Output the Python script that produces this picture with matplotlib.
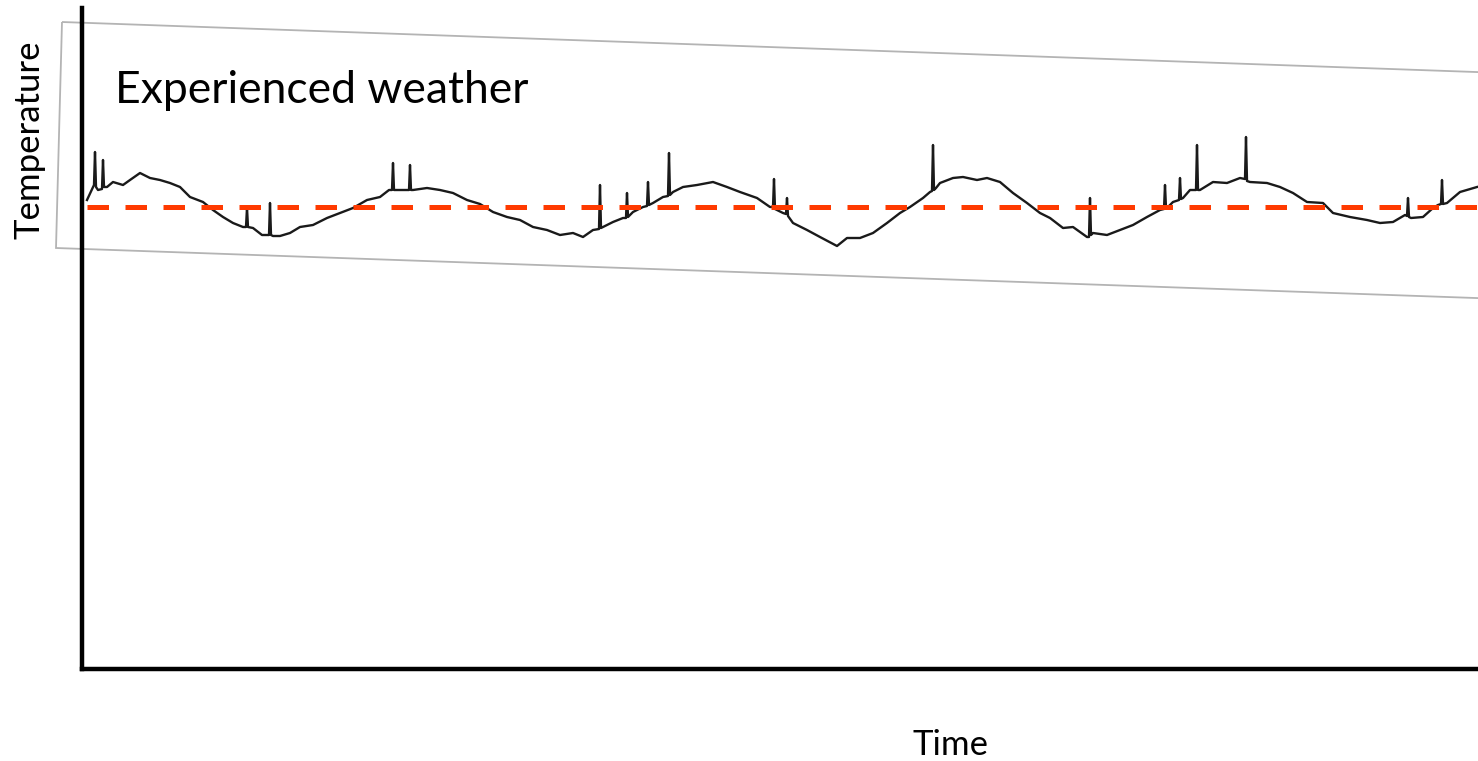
import matplotlib.pyplot as plt
from matplotlib.patches import Polygon

plt.rcParams['font.family'] = ['Lato', 'DejaVu Sans']

# time index and experienced temperature
time = [5, 11, 12, 13, 14, 16, 20, 21, 22, 25, 31, 41, 48, 58, 68, 78, 88, 98,
        108, 121, 131, 141, 151, 161, 164, 165, 166, 171, 180, 186, 187, 188, 189,
        191, 198, 208, 218, 231, 245, 258, 271, 285, 298, 307, 310, 311, 312, 318,
        325, 327, 328, 329, 331, 345, 358, 371, 385, 398, 411, 425, 438, 451, 465,
        478, 491, 501, 511, 517, 518, 519, 521, 531, 541, 544, 545, 546, 551, 561,
        565, 566, 567, 571, 581, 586, 587, 588, 591, 601, 615, 631, 645, 658, 675,
        688, 691, 692, 693, 695, 701, 704, 705, 706, 711, 725, 738, 755, 765, 778,
        791, 805, 818, 828, 841, 848, 850, 851, 852, 854, 858, 871, 881, 895, 905,
        918, 931, 945, 958, 968, 981, 991, 1005, 1007, 1008, 1009, 1011, 1025, 1038,
        1051, 1065, 1078, 1082, 1083, 1084, 1086, 1091, 1097, 1098, 1099, 1101, 1108,
        1114, 1115, 1116, 1118, 1131, 1145, 1158, 1163, 1164, 1165, 1168, 1185, 1198,
        1211, 1225, 1241, 1251, 1268, 1285, 1298, 1311, 1323, 1325, 1326, 1327, 1329,
        1341, 1351, 1356, 1359, 1360, 1361, 1365, 1378, 1395]
temperature = [15.7, 17.0, 17.2, 20.5, 17.0, 16.7, 16.8, 19.7, 17.0, 17.0, 17.5,
               17.2, 17.7, 18.4, 17.9, 17.7, 17.4, 17.0, 16.0, 15.5, 14.7, 14.0,
               13.4, 13.0, 13.0, 14.9, 13.0, 12.9, 12.2, 12.2, 12.2, 15.4, 12.2,
               12.1, 12.1, 12.4, 13.0, 13.2, 13.9, 14.4, 14.9, 15.7, 16.0, 16.7,
               16.7, 19.4, 16.7, 16.7, 16.7, 16.7, 19.2, 16.7, 16.7, 16.9, 16.7,
               16.4, 15.7, 15.3, 14.5, 14.0, 13.7, 13.0, 12.7, 12.2, 12.4, 12.0,
               12.7, 12.8, 17.2, 12.9, 13.0, 13.5, 13.9, 13.9, 16.4, 14.0, 14.5,
               15.0, 15.1, 17.5, 15.2, 15.4, 16.0, 16.1, 20.4, 16.2, 16.5, 17.0,
               17.2, 17.5, 17.0, 16.5, 15.9, 15.0, 15.0, 17.8, 14.8, 14.7, 14.4,
               14.3, 15.9, 14.1, 13.4, 12.7, 12.0, 11.1, 11.9, 11.9, 12.4, 13.4,
               14.4, 15.0, 15.9, 16.5, 16.6, 21.2, 16.7, 16.9, 17.4, 17.9, 18.0,
               17.7, 17.9, 17.5, 16.4, 15.4, 14.4, 13.9, 12.9, 13.0, 12.0, 12.0,
               15.9, 12.2, 12.4, 12.2, 12.7, 13.2, 14.0, 14.7, 14.8, 17.2, 14.9,
               15.0, 15.5, 15.7, 17.9, 15.8, 15.9, 16.7, 16.7, 21.2, 16.7, 16.7,
               17.5, 17.4, 17.9, 17.8, 22.0, 17.6, 17.5, 17.4, 17.0, 16.4, 15.5,
               15.4, 14.4, 14.0, 13.7, 13.4, 13.5, 14.2, 14.1, 15.9, 14.0, 13.9,
               14.0, 14.9, 15.2, 15.3, 17.7, 15.3, 15.4, 16.5, 17.0]
mean_temperature = 15.0

fig = plt.figure(figsize=(14.78, 7.61), dpi=100)
ax = fig.add_axes([82 / 1478, 92 / 761, 1396 / 1478, 661 / 761])
ax.set_xlim(0, 1396)
ax.set_ylim(-31.2, 34.9)

# tilted frame of the pasted weather picture
frame = Polygon([(-20, 33.5), (1450, 28.3), (1450, 5.7), (-26, 10.9)],
                closed=True, fill=False, edgecolor='#b4b4b4', linewidth=1.3,
                clip_on=False, zorder=1)
ax.add_patch(frame)

ax.plot(time, temperature, color='#1a1a1a', linewidth=1.7, zorder=3)
ax.plot([time[0], 1396], [mean_temperature, mean_temperature], color='#ff3a00',
        linewidth=3.6, linestyle=(0, (4.3, 3.3)), zorder=4, solid_capstyle='butt')

ax.text(33, 25.4, "Experienced weather", fontsize=32, va='baseline', ha='left')

for side in ['top', 'right']:
    ax.spines[side].set_visible(False)
for side in ['left', 'bottom']:
    ax.spines[side].set_linewidth(3.2)
    ax.spines[side].set_color('black')
ax.set_xticks([])
ax.set_yticks([])

fig.text(30 / 1478, 1 - 140 / 761, "Temperature", rotation=90, fontsize=25,
         ha='center', va='center')
fig.text(951 / 1478, 16 / 761, "Time", fontsize=25, ha='center', va='center')

fig.savefig("out.png", dpi=100)
